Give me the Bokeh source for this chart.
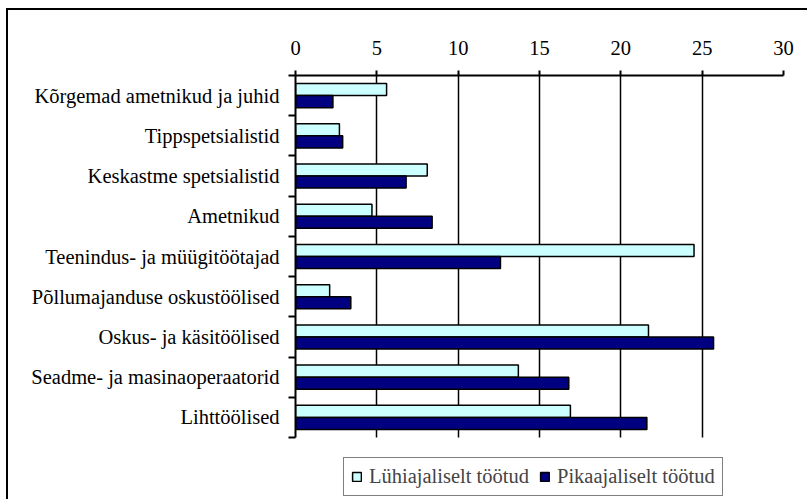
from bokeh.plotting import figure
from bokeh.models import (ColumnDataSource, Range1d, FixedTicker, Legend, LegendItem)
from bokeh.transform import dodge
from bokeh.embed import file_html
from bokeh.resources import INLINE

categories = [
    "Kõrgemad ametnikud ja juhid",
    "Tippspetsialistid",
    "Keskastme spetsialistid",
    "Ametnikud",
    "Teenindus- ja müügitöötajad",
    "Põllumajanduse oskustöölised",
    "Oskus- ja käsitöölised",
    "Seadme- ja masinaoperaatorid",
    "Lihttöölised",
]
short_term = [5.6, 2.7, 8.1, 4.7, 24.5, 2.1, 21.7, 13.7, 16.9]
long_term = [2.3, 2.9, 6.8, 8.4, 12.6, 3.4, 25.7, 16.8, 21.6]
series_names = ["Lühiajaliselt töötud", "Pikaajaliselt töötud"]
x_ticks = [0, 5, 10, 15, 20, 25, 30]

FONT = "Liberation Serif"
FS = "20.5px"
n = len(categories)
pos = [i + 0.5 for i in range(n)]
source = ColumnDataSource(dict(pos=pos, short=short_term, long=long_term, cat=categories))

# layout: data area is 362 px tall, the frame continues below to hold the legend
W, H = 799, 489
top_pad, left_pad = 65, 287
frame_w, data_h = 488, 362
frame_h = H - top_pad
y_end = n * frame_h / data_h

p = figure(width=W, height=H, output_backend="svg", toolbar_location=None,
           x_range=Range1d(0, 30), y_range=Range1d(y_end, 0),
           x_axis_location="above",
           min_border_left=left_pad, min_border_top=top_pad,
           min_border_right=W - left_pad - frame_w, min_border_bottom=0)
p.frame_width = frame_w
p.frame_height = frame_h
p.styles = {"border-left": "2px solid black", "border-top": "2px solid black",
            "margin-left": "6px", "margin-top": "8px"}
p.outline_line_color = None
p.background_fill_color = "white"
p.border_fill_color = "white"

r1 = p.hbar(y=dodge("pos", -0.15, range=p.y_range), right="short", left=0, height=0.3,
            source=source, fill_color="#CCFFFF", line_color="black", line_width=1.5)
r2 = p.hbar(y=dodge("pos", 0.15, range=p.y_range), right="long", left=0, height=0.3,
            source=source, fill_color="#000080", line_color="black", line_width=1.5)

# x axis (top)
xa = p.xaxis[0]
xa.ticker = FixedTicker(ticks=x_ticks)
xa.major_tick_out = 5
xa.major_tick_in = 0
xa.minor_tick_line_color = None
xa.axis_line_width = 2
xa.major_tick_line_width = 2
xa.axis_line_color = "black"
xa.major_label_text_font = FONT
xa.major_label_text_font_size = FS
xa.major_label_text_color = "black"
xa.major_label_standoff = 16

# y axis (left), labels at centers, ticks at boundaries
ya = p.yaxis[0]
ya.ticker = FixedTicker(ticks=pos, minor_ticks=list(range(n + 1)))
ya.major_label_overrides = {pv: c for pv, c in zip(pos, categories)}
ya.bounds = (0, n)
ya.major_tick_out = 0
ya.major_tick_in = 0
ya.major_tick_line_color = None
ya.minor_tick_out = 7
ya.minor_tick_in = 0
ya.minor_tick_line_color = "black"
ya.minor_tick_line_width = 2
ya.axis_line_width = 2
ya.axis_line_color = "black"
ya.major_label_text_font = FONT
ya.major_label_text_font_size = FS
ya.major_label_text_color = "black"
ya.major_label_standoff = 9

p.xgrid.ticker = FixedTicker(ticks=x_ticks)
p.xgrid.grid_line_color = "black"
p.xgrid.grid_line_width = 1.5
p.xgrid.cross_bounds = (0, n)
p.ygrid.grid_line_color = None

legend = Legend(items=[LegendItem(label=series_names[0], renderers=[r1]),
                       LegendItem(label=series_names[1], renderers=[r2])],
                orientation="horizontal", location=(48, 3),
                label_text_font=FONT, label_text_font_size=FS,
                glyph_width=11, glyph_height=11, label_standoff=7, spacing=10,
                padding=7, margin=0, border_line_color="black", border_line_width=1.5,
                label_height=20, background_fill_alpha=1.0)
p.add_layout(legend, "center")

open("out.html", "w").write(file_html(p, INLINE))
